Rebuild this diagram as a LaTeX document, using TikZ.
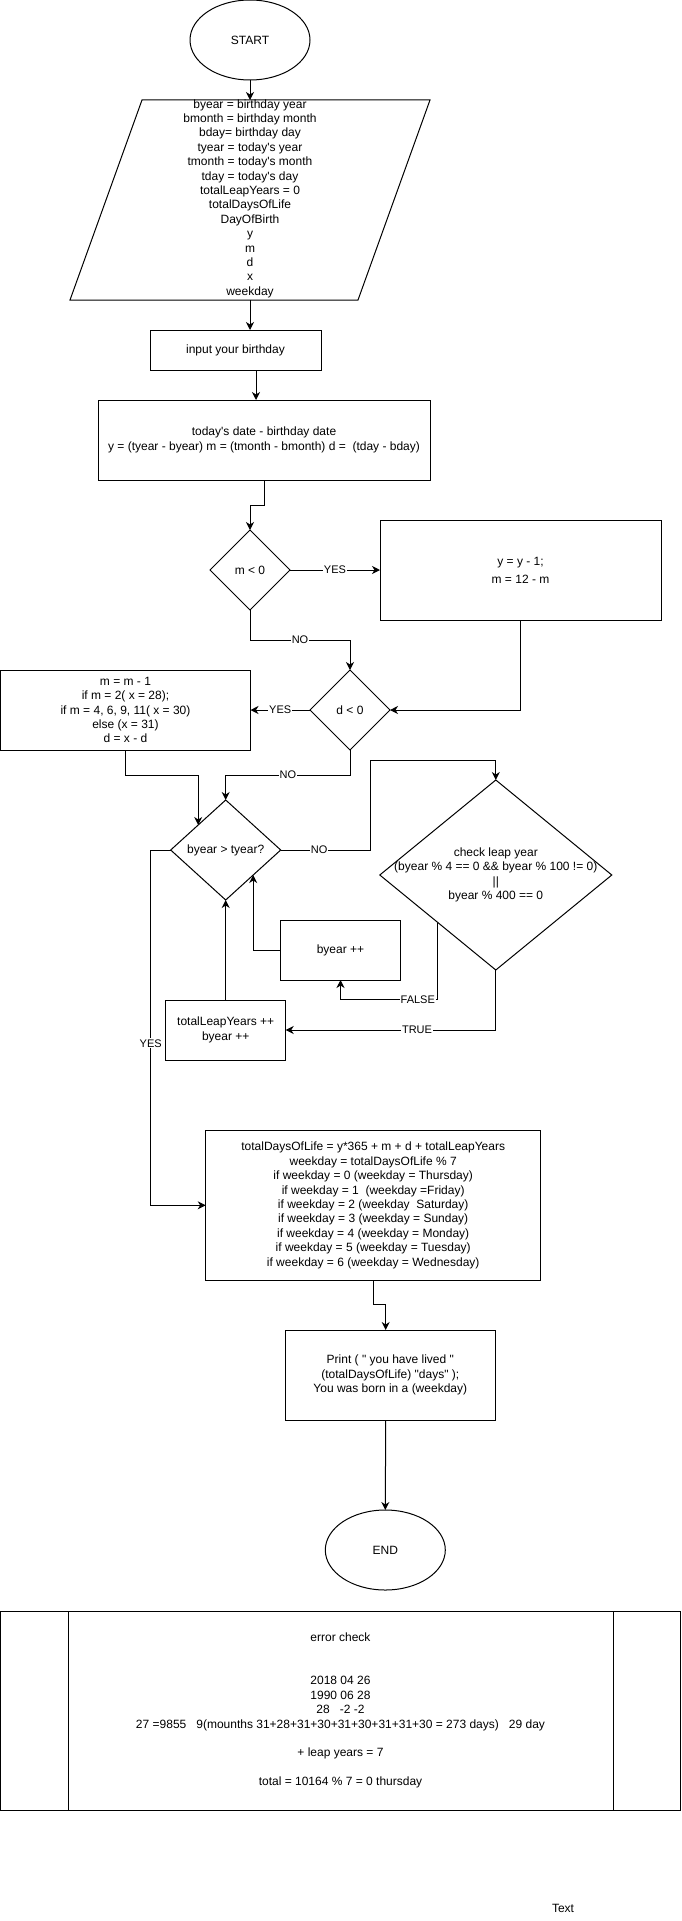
\documentclass[tikz,border=0pt]{standalone}
\usepackage{fontspec}
\newfontfamily\arial{Liberation Sans}
\usetikzlibrary{shapes.geometric,arrows.meta,calc}
\begin{document}
\begin{tikzpicture}[x=1pt,y=-1pt,
  every node/.style={font=\arial\fontsize{12}{14.4}\selectfont, inner sep=0pt, outer sep=0pt},
  box/.style={draw, line width=1pt, rectangle, align=center},
  dia/.style={draw, line width=1pt, diamond},
  oval/.style={draw, line width=1pt, ellipse, minimum width=120pt, minimum height=80pt},
  arr/.style={line width=1pt, -{Stealth[length=8pt,width=8pt,inset=2.5pt]}},
  ln/.style={line width=1pt},
  lbl/.style={font=\arial\fontsize{11}{13.2}\selectfont, fill=white, inner sep=1pt},
]
\useasboundingbox (0,0) rectangle (681,1921);

\node[oval] (start) at (250,40) {START};
\node[minimum width=360pt, minimum height=200pt,
  label={[align=center,yshift=1.5pt]center:{byear = birthday year\\bmonth = birthday month\\bday= birthday day\\tyear = today's year\\tmonth = today's month\\tday = today's day\\totalLeapYears = 0\\totalDaysOfLife\\DayOfBirth\\y\\m\\d\\x\\weekday}}] (vars) at (250,200) {};
\draw[ln] ($(vars.north west)+(72,0)$) -- (vars.north east) -- ($(vars.south east)-(72,0)$) -- (vars.south west) -- cycle;

\node[box, minimum width=171pt, minimum height=40pt] (inp) at (235.5,350) {input your birthday};
\node[box, minimum width=332pt, minimum height=80pt] (diff) at (264,440) {today's date - birthday date\\y = (tyear - byear) m = (tmonth - bmonth) d =\ \ (tday - bday)};
\node[dia, minimum width=80pt, minimum height=80pt, label=center:{m < 0}] (m0) at (250,570) {};
\node[box, minimum width=281pt, minimum height=100pt] (ymb) at (520.5,570) {y = y - 1;\\[3.6pt]m = 12 - m};
\node[dia, minimum width=80pt, minimum height=80pt, label=center:{d < 0}] (d0) at (350,710) {};
\node[box, minimum width=250pt, minimum height=80pt] (mfix) at (125.5,710) {m = m - 1\\if m = 2( x = 28);\\if m = 4, 6, 9, 11( x = 30)\\else (x = 31)\\d = x - d};
\node[dia, minimum width=110pt, minimum height=100pt, label=center:{byear > tyear?}] (bt) at (225.7,850) {};
\node[dia, minimum width=232pt, minimum height=190pt, label={[align=center]center:{check leap year\\(byear \% 4 == 0 \&\& byear \% 100 != 0)\\||\\byear \% 400 == 0}}] (leap) at (495.8,875) {};
\node[box, minimum width=120pt, minimum height=60pt] (binc) at (340.5,950) {byear ++};
\node[box, minimum width=120pt, minimum height=60pt] (tl) at (225.7,1030) {totalLeapYears ++\\byear ++};
\node[box, minimum width=335pt, minimum height=150pt] (total) at (373.2,1205.3) {totalDaysOfLife = y*365 + m + d + totalLeapYears\\weekday = totalDaysOfLife \% 7\\if weekday = 0 (weekday = Thursday)\\if weekday = 1\ \ (weekday =Friday)\\if weekday = 2 (weekday\ \ Saturday)\\if weekday = 3 (weekday = Sunday)\\if weekday = 4 (weekday = Monday)\\if weekday = 5 (weekday = Tuesday)\\if weekday = 6 (weekday = Wednesday)};
\node[box, minimum width=210pt, minimum height=90pt] (pr) at (390.3,1375) {Print ( " you have lived "\\(totalDaysOfLife) "days" );\\You was born in a (weekday)};
\node[oval] (fin) at (385.3,1550) {END};
\node[box, minimum width=680pt, minimum height=199pt] (err) at (340.5,1710.5) {error check\\[28.8pt]2018 04 26\\1990 06 28\\28\ \ \ -2 -2\\27 =9855\ \ \ 9(mounths 31+28+31+30+31+30+31+31+30 = 273 days)\ \ \ 29 day\\[14.4pt]+ leap years = 7\\[14.4pt]total = 10164 \% 7 = 0 thursday};
\draw[ln] ([xshift=67.5pt]err.north west) -- ([xshift=67.5pt]err.south west);
\draw[ln] ([xshift=-67.5pt]err.north east) -- ([xshift=-67.5pt]err.south east);
\node (txt) at (563,1908) {Text};

\draw[arr] (start.south) -- (vars.north);
\draw[arr] (vars.south) -- (vars.south |- inp.north);
\draw[arr] ([xshift=20.5pt]inp.south) -- ([xshift=-8pt]diff.north);
\draw[arr] (diff.south) -- ++(0,25) -| (m0.north);
\draw[arr] (m0.east) -- node[lbl]{YES} (ymb.west);
\draw[arr] (m0.south) -- ++(0,30) -| node[lbl,pos=0.25]{NO} (d0.north);
\draw[arr] (ymb.south) |- (d0.east);
\draw[arr] (d0.west) -- node[lbl]{YES} (mfix.east);
\draw[arr] (mfix.south) -- ++(0,25) -| (bt.north west);
\draw[arr] (d0.south) -- ++(0,25) -| node[lbl,pos=0.25]{NO} (bt.north);
\draw[arr] (bt.east) -- node[lbl,pos=0.43]{NO} ++(89.3,0) -- ++(0,-89.3) -| (leap.north);
\draw[arr] (binc.west) -| (bt.south east);
\draw[arr] (leap.south west) -- ++(0,77) -| node[lbl,pos=0.103]{FALSE} (binc.south);
\draw[arr] (leap.south) |- node[lbl,pos=0.6875]{TRUE} (tl.east);
\draw[arr] (tl.north) -- (bt.south);
\draw[arr] (bt.west) -- ++(-20,0) |- node[lbl,pos=0.272]{YES} (total.west);
\draw[arr] (total.south) -- ++(0,24) -| ([xshift=-4.6pt]pr.north);
\draw[arr] ([xshift=-4.6pt]pr.south) -- (fin.north);
\end{tikzpicture}
\end{document}
